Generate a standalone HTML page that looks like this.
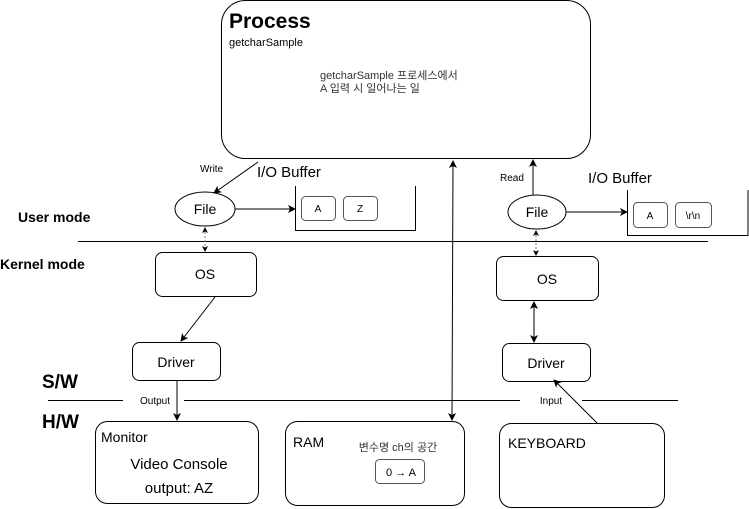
<!DOCTYPE html>
<html><head><meta charset="utf-8"><style>
html,body{margin:0;padding:0;background:#fff;}
svg{display:block;font-family:"Liberation Sans","Noto Sans CJK KR",sans-serif;}
</style></head><body>
<svg width="749" height="509" viewBox="0 0 749 509" xmlns="http://www.w3.org/2000/svg">
<defs>
<marker id="a" markerWidth="8" markerHeight="8" refX="7" refY="4" orient="auto" markerUnits="userSpaceOnUse"><path d="M0,0 L8,4 L0,8 L2,4 z" fill="#000"/></marker>
<marker id="as" markerWidth="6" markerHeight="6" refX="5" refY="3" orient="auto" markerUnits="userSpaceOnUse"><path d="M0,0 L6,3 L0,6 L1.5,3 z" fill="#000"/></marker>
<marker id="b" markerWidth="8" markerHeight="8" refX="1" refY="4" orient="auto" markerUnits="userSpaceOnUse"><path d="M8,0 L0,4 L8,8 L6,4 z" fill="#000"/></marker>
<marker id="bs" markerWidth="6" markerHeight="6" refX="1" refY="3" orient="auto" markerUnits="userSpaceOnUse"><path d="M6,0 L0,3 L6,6 L4.5,3 z" fill="#000"/></marker>
</defs>
<g fill="none" stroke="#000" stroke-width="1">
<rect x="221.5" y="0.5" width="369" height="158" rx="24"/>
<ellipse cx="205" cy="209" rx="30" ry="17"/>
<ellipse cx="537" cy="212" rx="29" ry="17"/>
<path d="M295.5,186 V230.5 H415.5 V186"/>
<path d="M627.5,190 V235.5 H748 V190"/>
<rect x="301.5" y="196.5" width="34" height="24" rx="4" stroke="#555"/>
<rect x="343.5" y="196.5" width="34" height="24" rx="4" stroke="#555"/>
<rect x="633.5" y="202.5" width="34" height="25" rx="4" stroke="#555"/>
<rect x="675.5" y="202.5" width="36" height="25" rx="4" stroke="#555"/>
<line x1="78" y1="241.5" x2="708" y2="241.5"/>
<rect x="155.5" y="252.5" width="101" height="44" rx="7"/>
<rect x="496.5" y="256.5" width="102" height="44" rx="7"/>
<rect x="132.5" y="342.5" width="88" height="38" rx="7"/>
<rect x="502.5" y="343.5" width="88" height="38" rx="7"/>
<line x1="48" y1="400.5" x2="123" y2="400.5"/>
<line x1="184" y1="400.5" x2="520" y2="400.5"/>
<line x1="582" y1="400.5" x2="678" y2="400.5"/>
<rect x="95.5" y="421.5" width="163" height="82" rx="12"/>
<rect x="285.5" y="421.5" width="179" height="84" rx="12"/>
<rect x="499.5" y="423.5" width="165" height="84" rx="12"/>
<rect x="375.5" y="459.5" width="49" height="24" rx="4" stroke="#555"/>
<line x1="258" y1="162" x2="214" y2="193" marker-end="url(#a)"/>
<line x1="235" y1="209" x2="295" y2="209" marker-end="url(#a)"/>
<line x1="566" y1="212" x2="627" y2="212" marker-end="url(#a)"/>
<line x1="533" y1="195" x2="533" y2="160" marker-end="url(#a)"/>
<line x1="205" y1="228" x2="205" y2="251" stroke-dasharray="2,2" stroke="#777" marker-start="url(#bs)" marker-end="url(#as)"/>
<line x1="536" y1="231" x2="536" y2="255" stroke-dasharray="2,2" stroke="#777" marker-start="url(#bs)" marker-end="url(#as)"/>
<line x1="215" y1="297" x2="181" y2="341" marker-end="url(#a)"/>
<line x1="534" y1="302" x2="534" y2="342" marker-start="url(#b)" marker-end="url(#a)"/>
<line x1="177" y1="381" x2="177" y2="420" marker-end="url(#a)"/>
<line x1="598" y1="424" x2="554" y2="380" marker-end="url(#a)"/>
<line x1="453" y1="161" x2="452" y2="420" marker-start="url(#b)" marker-end="url(#a)"/>
</g>
<g fill="#000">
<text x="229" y="28" font-size="21" font-weight="bold">Process</text>
<text x="229" y="46" font-size="11">getcharSample</text>
<text x="320" y="79" font-size="11" fill="#333">getcharSample 프로세스에서</text>
<text x="320" y="92" font-size="11" fill="#333">A 입력 시 일어나는 일</text>
<text x="200" y="172" font-size="10">Write</text>
<text x="257" y="177" font-size="15">I/O Buffer</text>
<text x="500" y="181" font-size="10">Read</text>
<text x="588" y="183" font-size="15">I/O Buffer</text>
<text x="205" y="214" font-size="14" text-anchor="middle">File</text>
<text x="537" y="217" font-size="14" text-anchor="middle">File</text>
<text x="318" y="212" font-size="10" text-anchor="middle">A</text>
<text x="360" y="212" font-size="10" text-anchor="middle">Z</text>
<text x="650" y="219" font-size="10" text-anchor="middle">A</text>
<text x="693" y="219" font-size="10" text-anchor="middle">\r\n</text>
<text x="18" y="222" font-size="14" font-weight="bold">User mode</text>
<text x="0" y="269" font-size="14" font-weight="bold">Kernel mode</text>
<text x="205" y="279" font-size="14" text-anchor="middle">OS</text>
<text x="547" y="284" font-size="14" text-anchor="middle">OS</text>
<text x="176" y="367" font-size="14" text-anchor="middle">Driver</text>
<text x="546" y="368" font-size="14" text-anchor="middle">Driver</text>
<text x="42" y="388" font-size="19" font-weight="bold">S/W</text>
<text x="42" y="428" font-size="19" font-weight="bold">H/W</text>
<text x="155" y="404" font-size="10" text-anchor="middle">Output</text>
<text x="551" y="404" font-size="10" text-anchor="middle">Input</text>
<text x="101" y="442" font-size="14">Monitor</text>
<text x="179" y="469" font-size="15" text-anchor="middle">Video Console</text>
<text x="179" y="493" font-size="15" text-anchor="middle">output: AZ</text>
<text x="293" y="447" font-size="14">RAM</text>
<text x="398" y="451" font-size="11" text-anchor="middle" fill="#333">변수명 ch의 공간</text>
<text x="401" y="476" font-size="11" text-anchor="middle">0 → A</text>
<text x="508" y="448" font-size="14">KEYBOARD</text>
</g>
</svg>
</body></html>
